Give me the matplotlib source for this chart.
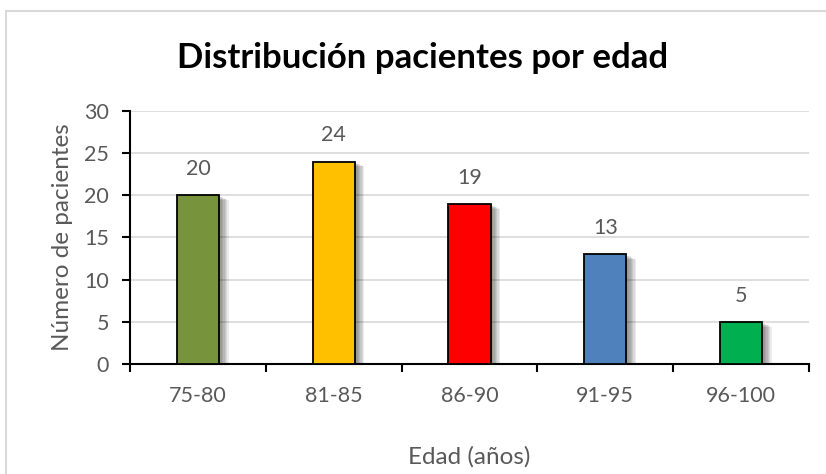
import matplotlib
matplotlib.use("Agg")
import matplotlib.pyplot as plt
import matplotlib.patheffects as pe
from matplotlib.patches import Rectangle

categories = ["75-80", "81-85", "86-90", "91-95", "96-100"]
values = [20, 24, 19, 13, 5]
colors = ["#77933c", "#ffc000", "#ff0000", "#4f81bd", "#00b050"]
yticks = [0, 5, 10, 15, 20, 25, 30]

plt.rcParams['font.family'] = ['Lato', 'DejaVu Sans']
gray = "#595959"

fig = plt.figure(figsize=(8.26, 4.74), dpi=100)
fig.patches.append(Rectangle((6/826, -0.1), 1.2, (474-11)/474 + 0.1, transform=fig.transFigure,
                             fill=False, edgecolor="#d9d9d9", linewidth=1.5))
ax = fig.add_axes([130/826, (474-364)/474, (809-130)/826, (364-111)/474])

x = list(range(len(categories)))
bars = ax.bar(x, values, width=0.31, color=colors, edgecolor="black", linewidth=1.3, zorder=3)
shadow = [pe.SimplePatchShadow(offset=(o, -o * 0.5), shadow_rgbFace="black", alpha=0.08) for o in (7, 6, 5, 4, 3, 2)]
for b in bars:
    b.set_path_effects(shadow + [pe.Normal()])
for xi, v in zip(x, values):
    ax.text(xi, v + 3.1, str(v), ha="center", va="center", fontsize=15.5, color=gray)

ax.set_xlim(-0.5, len(categories) - 0.5)
ax.set_ylim(0, 30)
ax.set_yticks(yticks)
ax.yaxis.grid(True, color="#d9d9d9", linewidth=1.2, zorder=0)
ax.set_axisbelow(True)
ax.set_xticks(x)
ax.set_xticklabels(categories, fontsize=15.5, color=gray)
ax.set_xticks([i + 0.5 for i in range(-1, len(categories))], minor=True)
ax.tick_params(axis="x", which="major", length=0, pad=16)
ax.tick_params(axis="x", which="minor", length=6, width=1.5, color="black", direction="out")
ax.tick_params(axis="y", length=6, width=1.5, color="black", labelsize=15.5, labelcolor=gray, pad=9)
for s in ["top", "right"]:
    ax.spines[s].set_visible(False)
for s in ["left", "bottom"]:
    ax.spines[s].set_linewidth(1.5)

ax.set_ylabel("Número de pacientes", fontsize=17.5, color=gray, labelpad=8)
ax.set_xlabel("Edad (años)", fontsize=17.5, color=gray, labelpad=29)
fig.text(423/826, 1 - 58/474, "Distribución pacientes por edad", ha="center", va="center",
         fontsize=25, fontweight="bold", color="black")

fig.savefig("out.png", dpi=100)
